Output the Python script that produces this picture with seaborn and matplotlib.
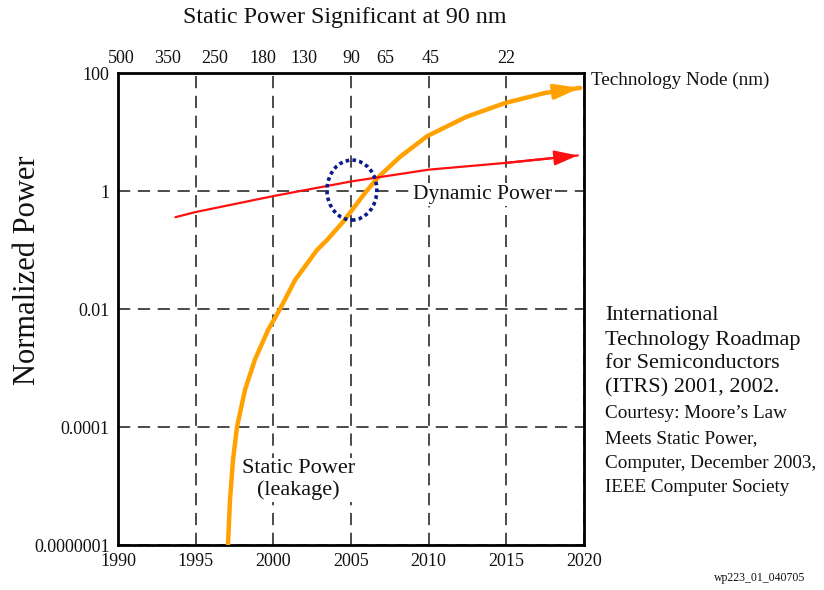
import numpy as np
import pandas as pd
import matplotlib
matplotlib.use("Agg")
import matplotlib.pyplot as plt
import seaborn as sns
from matplotlib.patches import Ellipse

# ============================================================
# DATA
# ============================================================

static_years = [1997.08, 1997.21, 1997.40, 1997.66, 1998.18, 1998.82, 1999.66,
                2000.43, 2001.40, 2002.81, 2003.46, 2004.49, 2006.0, 2006.74,
                2008.16, 2009.9, 2012.41, 2014.92, 2017.5, 2019.75]
static_power = [1e-7, 1.4e-6, 1.4e-5, 1e-4, 4.3e-4, 1.4e-3, 4.4e-3,
                1e-2, 0.031, 0.1, 0.148, 0.30, 1.0, 1.7,
                3.8, 8.5, 18, 31, 46, 56]

dynamic_years = [1993.7, 1995.0, 2000.0, 2005.0, 2010.0, 2015.0, 2019.6]
dynamic_power = [0.36, 0.44, 0.82, 1.45, 2.3, 3.0, 4.0]

year_ticks = [1990, 1995, 2000, 2005, 2010, 2015, 2020]
power_ticks = [1e-7, 1e-4, 1e-2, 1, 100]
power_labels = ["0.0000001", "0.0001", "0.01", "1", "100"]

node_years = [1990.2, 1993.2, 1996.25, 1999.3, 2002.0, 2005.0, 2007.2, 2010.1, 2015.0]
node_labels = ["500", "350", "250", "180", "130", "90", "65", "45", "22"]

itrs_big = ["International", "Technology Roadmap", "for Semiconductors",
            "(ITRS) 2001, 2002."]
itrs_small = ["Courtesy: Moore\u2019s Law", "Meets Static Power,",
              "Computer, December 2003,", "IEEE Computer Society"]

ORANGE = "#FFA200"
RED = "#FF1010"
NAVY = "#0A1A8C"
INK = "#111111"


# the original axis puts its ticks at equal spacing although the
# bottom gap is 3 decades and the others are 2 decades
def fwd(v):
    L = np.log10(np.clip(np.asarray(v, dtype=float), 1e-15, None))
    return np.where(L >= -4, (L + 4) / 2 + 1, (L + 7) / 3)


def inv(u):
    u = np.asarray(u, dtype=float)
    return np.where(u >= 1, 10 ** ((u - 1) * 2 - 4), 10 ** (u * 3 - 7))


# ============================================================
# FIGURE
# ============================================================

sns.set_style("white")
plt.rcParams["font.family"] = ["Liberation Serif", "DejaVu Serif"]

fig = plt.figure(figsize=(8.24, 5.9), dpi=100)
ax = fig.add_axes([118 / 824, 45 / 590, 466 / 824, 472 / 590])

static_df = pd.DataFrame({"year": static_years, "power": static_power})
dynamic_df = pd.DataFrame({"year": dynamic_years, "power": dynamic_power})

sns.lineplot(data=static_df, x="year", y="power", ax=ax, color=ORANGE,
             linewidth=3.2, errorbar=None, sort=True, zorder=3)
sns.lineplot(data=dynamic_df, x="year", y="power", ax=ax, color=RED,
             linewidth=1.6, errorbar=None, sort=True, zorder=4)

ax.set_yscale("function", functions=(fwd, inv))
ax.set_xlim(1990, 2020)
ax.set_ylim(1e-7, 100)

# arrow heads at curve ends
ax.annotate("", xy=(static_years[-1], static_power[-1]),
            xytext=(static_years[-2], static_power[-2]),
            arrowprops=dict(arrowstyle="-|>,head_length=1.2,head_width=0.35",
                            color=ORANGE, lw=2.5, mutation_scale=13,
                            shrinkA=0, shrinkB=0), zorder=3)
ax.annotate("", xy=(dynamic_years[-1], dynamic_power[-1]),
            xytext=(dynamic_years[-2], dynamic_power[-2]),
            arrowprops=dict(arrowstyle="-|>,head_length=1.1,head_width=0.35",
                            color=RED, lw=1.6, mutation_scale=13,
                            shrinkA=0, shrinkB=0), zorder=4)

# dotted circle around the crossover
ax.add_patch(Ellipse((0.502, 0.752), 0.107, 0.127, transform=ax.transAxes,
                     fill=False, edgecolor=NAVY, linewidth=2.6,
                     linestyle=(0, (1, 0.9)), zorder=5))

# ticks, grid, spines
ax.set_xticks(year_ticks)
ax.set_xticklabels([str(y) for y in year_ticks])
ax.set_yticks(power_ticks)
ax.set_yticklabels(power_labels)
ax.yaxis.set_minor_locator(matplotlib.ticker.NullLocator())
ax.tick_params(axis="both", length=0, labelsize=13, colors=INK)
ax.tick_params(axis="x", pad=6)
ax.tick_params(axis="y", pad=6)
ax.set_xlabel("")
ax.set_ylabel("")

ax.grid(True, color="#1a1a1a", linewidth=1.1, linestyle=(0, (8, 5)))
for sp in ax.spines.values():
    sp.set_visible(True)
    sp.set_color("black")
    sp.set_linewidth(2.0)

# top axis with technology nodes
ax2 = ax.twiny()
ax2.set_xlim(1990, 2020)
ax2.set_xticks(node_years)
ax2.set_xticklabels(node_labels)
ax2.tick_params(axis="x", length=0, labelsize=13, pad=4, colors=INK)
for sp in ax2.spines.values():
    sp.set_visible(False)

# ============================================================
# TEXT
# ============================================================

fig.text(345 / 824, 1 - 17 / 590, "Static Power Significant at 90 nm",
         ha="center", va="center", fontsize=17.3, color=INK)
fig.text(28 / 824, 1 - 270 / 590, "Normalized Power", rotation=90,
         ha="center", va="center", fontsize=22, color=INK)
fig.text(591 / 824, 1 - 80 / 590, "Technology Node (nm)",
         ha="left", va="center", fontsize=13.8, color=INK)

ax.text(0.632, 0.742, "Dynamic Power", transform=ax.transAxes,
        ha="left", va="center", fontsize=15.5, color=INK, zorder=6,
        bbox=dict(facecolor="white", edgecolor="none", pad=1.5))
ax.text(0.388, 0.138, "Static Power\n(leakage)", transform=ax.transAxes,
        ha="center", va="center", fontsize=16, color=INK, zorder=6,
        linespacing=1.15,
        bbox=dict(facecolor="white", edgecolor="none", pad=1.0))

y_big = [316, 340, 364, 388]
for line, yy in zip(itrs_big, y_big):
    fig.text(605 / 824, 1 - yy / 590, line, ha="left", va="center",
             fontsize=16, color=INK)
y_small = [414, 439, 464, 488]
for line, yy in zip(itrs_small, y_small):
    fig.text(605 / 824, 1 - yy / 590, line, ha="left", va="center",
             fontsize=13.8, color=INK)

fig.text(760 / 824, 1 - 578 / 590, "wp223_01_040705", ha="center",
         va="center", fontsize=8.5, color=INK)

fig.savefig("out.png", dpi=100)
